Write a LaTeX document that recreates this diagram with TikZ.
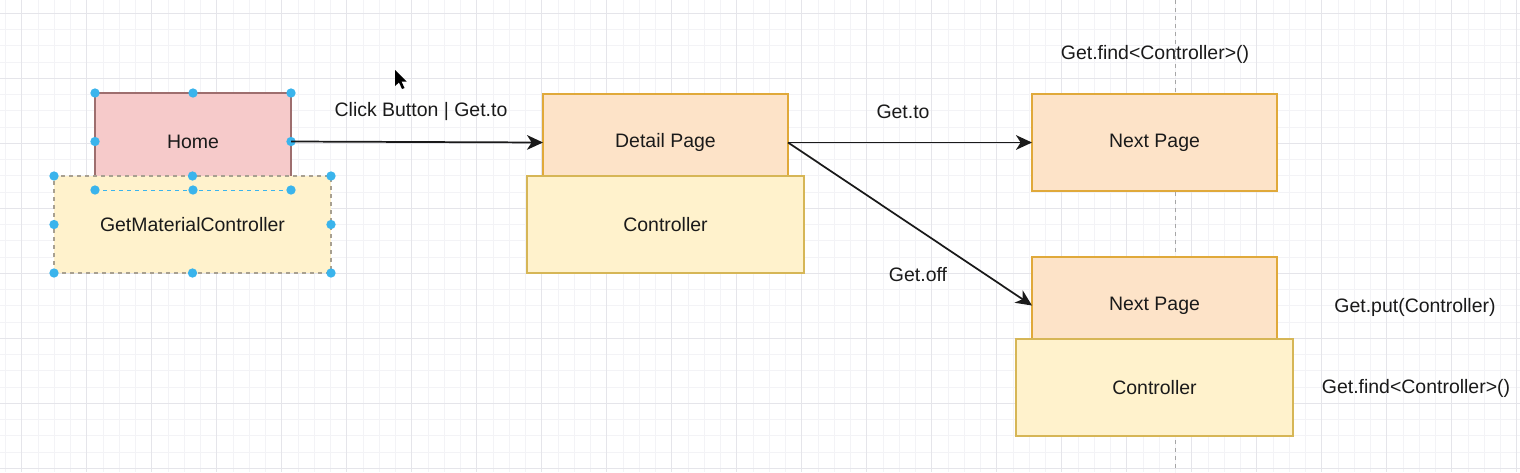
\documentclass[tikz,border=0pt]{standalone}
\usepackage{fontspec}
\setmainfont{Liberation Sans}
\usepackage{tikz}
\usetikzlibrary{arrows.meta,positioning}

\definecolor{homefill}{HTML}{F6CACA}
\definecolor{homeline}{HTML}{9E6E6E}
\definecolor{pagefill}{HTML}{FDE3C8}
\definecolor{pageline}{HTML}{E0A93A}
\definecolor{ctrlfill}{HTML}{FFF2CC}
\definecolor{ctrlline}{HTML}{D6B656}
\definecolor{selline}{HTML}{A8A090}
\definecolor{handlecol}{HTML}{3AB4EC}
\definecolor{gridminor}{HTML}{F3F3F6}
\definecolor{gridmajor}{HTML}{E5E5EA}
\definecolor{txt}{HTML}{1A1A1A}

\tikzset{
  box/.style={rectangle, inner sep=0pt, outer sep=0pt, line width=0.9pt,
    text=txt, font=\fontsize{14.6}{17}\selectfont},
  homebox/.style={box, fill=homefill, draw=homeline,
    minimum width=147pt, minimum height=72.75pt},
  pagebox/.style={box, fill=pagefill, draw=pageline,
    minimum width=183.75pt, minimum height=72.75pt},
  ctrlbox/.style={box, fill=ctrlfill, draw=ctrlline,
    minimum width=207.75pt, minimum height=72.75pt},
  lbl/.style={inner sep=0pt, text=txt, font=\fontsize{14.6}{17}\selectfont},
  link/.style={-{Stealth[length=12pt, width=11pt, inset=3.5pt]}, line width=1.3pt, draw=txt},
  handle/.style={circle, fill=handlecol, inner sep=0pt, minimum size=7pt},
}

\begin{document}
\begin{tikzpicture}[x=0.75pt, y=-0.75pt]
    \useasboundingbox[fill=white] (0,0) rectangle (1520,472);

    % grid of the canvas
    \begin{scope}
    \clip (0,0) rectangle (1520,472);
    \foreach \gx in {5.45,21.7,...,1525}
        \draw[gridminor, line width=0.6pt] (\gx,0) -- (\gx,472);
    \foreach \gy in {13.3,29.55,...,480}
        \draw[gridminor, line width=0.6pt] (0,\gy) -- (1520,\gy);
    \foreach \gx in {21.7,86.7,...,1525}
        \draw[gridmajor, line width=0.7pt] (\gx,0) -- (\gx,472);
    \foreach \gy in {13.3,78.3,...,480}
        \draw[gridmajor, line width=0.7pt] (0,\gy) -- (1520,\gy);
    \end{scope}
    \draw[gray!70, dashed, line width=0.6pt] (1175,0) -- (1175,472);

    % Define nodes
    \node[homebox]  (home)   at (193,141.5)  {Home};
    \node[ctrlbox, draw=selline, dashed] (gmc) at (192.5,224.5) {GetMaterialController};
    \node[pagebox]  (detail) at (665.5,142.5) {Detail Page};
    \node[ctrlbox]  (ctrl)   at (665.5,224.5) {Controller};
    \node[pagebox]  (next)   at (1154.5,142.5) {Next Page};
    \node[pagebox]  (nextb)  at (1154.5,305.5) {Next Page};
    \node[ctrlbox]  (ctrlb)  at (1154.5,387.5) {Controller};

    % selection of home and controller
    \draw[handlecol, dashed, line width=0.6pt]
        (home.south west) -- (home.south east);
    \foreach \p in {north west,north,north east,west,east,south west,south,south east} {
        \node[handle] at (home.\p) {};
        \node[handle] at (gmc.\p) {};
    }

    % Connect nodes
    \draw[link] (home.east) -- (detail.west);
    \draw[link] (detail.east) -- (next.west);
    \draw[link] (detail.east) -- (nextb.west);

    % labels
    \node[lbl] (clk)   at (421,112)  {Click Button | Get.to};
    \node[lbl] (to)    at (903,112)  {Get.to};
    \node[lbl] (off)   at (918,275)  {Get.off};
    \node[lbl] (find)  at (1155,54)  {Get.find<Controller>()};
    \node[lbl] (put)   at (1415,307) {Get.put(Controller)};
    \node[lbl] (findb) at (1416,388) {Get.find<Controller>()};

    % mouse pointer
    \fill[black] (395,70) -- (395,86) -- (399,82.5) -- (402,89) -- (404.5,88)
        -- (401.5,81.5) -- (406.5,81.5) -- cycle;
\end{tikzpicture}
\end{document}
